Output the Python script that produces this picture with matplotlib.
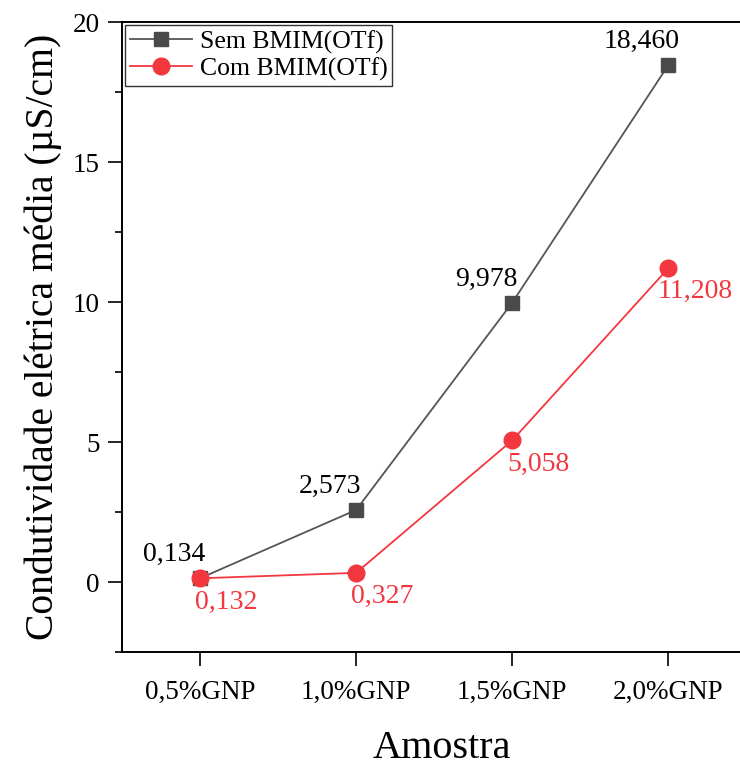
import matplotlib
matplotlib.use('Agg')
import matplotlib.pyplot as plt

plt.rcParams['font.family'] = ['Liberation Serif', 'DejaVu Serif']

# data
amostras = ['0,5%GNP', '1,0%GNP', '1,5%GNP', '2,0%GNP']
sem_bmim = [0.134, 2.573, 9.978, 18.460]
com_bmim = [0.132, 0.327, 5.058, 11.208]
sem_labels = ['0,134', '2,573', '9,978', '18,460']
com_labels = ['0,132', '0,327', '5,058', '11,208']

cor_sem = '#4a4a4a'
cor_com = '#f2373f'

fig = plt.figure(figsize=(7.4, 7.67), dpi=100)
# axes run past the right edge, as in the (cropped) original
ax = fig.add_axes([122/740, 115/767, 640/740, 630/767])

x = list(range(len(amostras)))
ax.plot(x, sem_bmim, color='#555555', lw=1.3, marker='s', ms=10,
        mfc=cor_sem, mec=cor_sem, label='Sem BMIM(OTf)')
ax.plot(x, com_bmim, color=cor_com, lw=1.3, marker='o', ms=12,
        mfc=cor_com, mec=cor_com, label='Com BMIM(OTf)')

for xi, yi, t in zip(x, sem_bmim, sem_labels):
    ax.annotate(t, (xi, yi), xytext=(-19, 17), textcoords='offset points',
                ha='center', va='center', fontsize=20, color='black')
for xi, yi, t in zip(x, com_bmim, com_labels):
    ax.annotate(t, (xi, yi), xytext=(19, -17), textcoords='offset points',
                ha='center', va='center', fontsize=20, color=cor_com)

ax.set_xlim(-0.5, 3.6)
ax.set_ylim(-2.5, 20)
ax.set_xticks(x)
ax.set_xticklabels(amostras)
ax.set_yticks([0, 5, 10, 15, 20])
ax.set_yticks([-2.5, 2.5, 7.5, 12.5, 17.5], minor=True)

ax.tick_params(axis='both', which='major', direction='out', length=10,
               width=1.2, labelsize=19.5, pad=6)
ax.tick_params(axis='y', which='minor', direction='out', length=5, width=1.2)
ax.tick_params(axis='x', pad=10)
for s in ax.spines.values():
    s.set_linewidth(1.4)

ax.set_xlabel('Amostra', fontsize=29, labelpad=18)
ax.set_ylabel('Condutividade elétrica média (µS/cm)', fontsize=28.5, labelpad=8)

leg = ax.legend(loc='upper left', fontsize=18.5, frameon=True, fancybox=False,
                edgecolor='black', borderaxespad=0.12, borderpad=0.2,
                labelspacing=0.15, handlelength=2.4, handletextpad=0.3)
leg.get_frame().set_linewidth(1.0)

fig.savefig('out.png', dpi=100)
